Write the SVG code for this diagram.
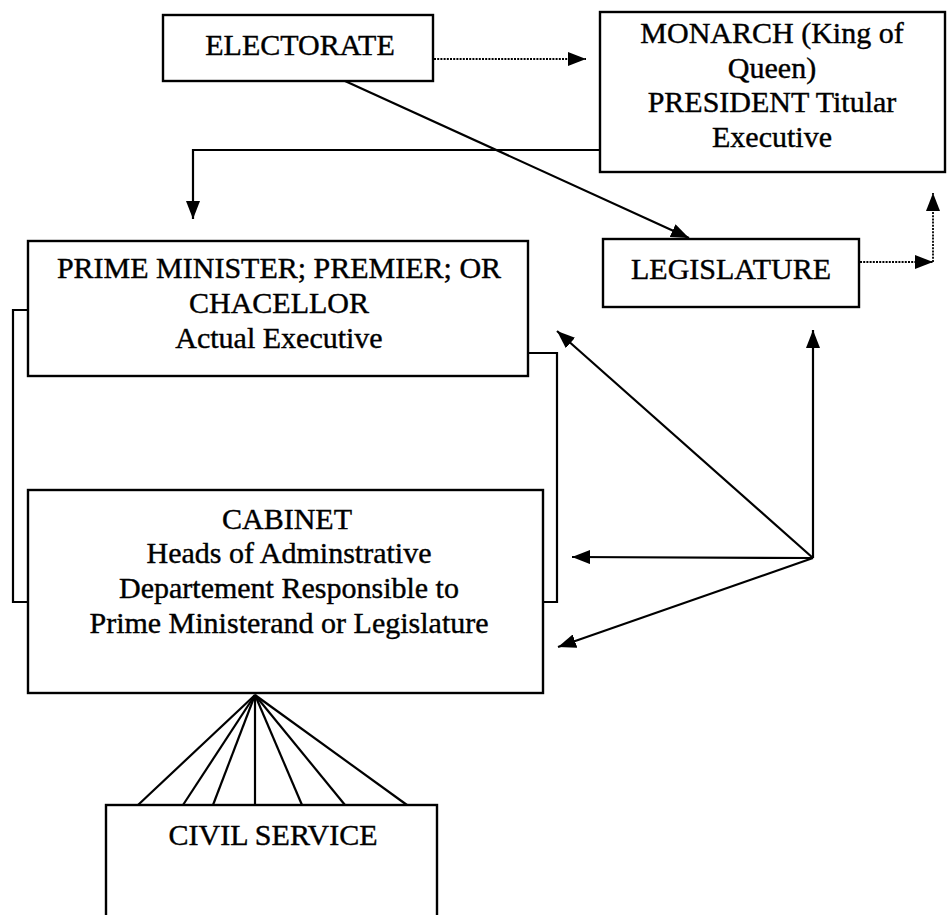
<svg xmlns="http://www.w3.org/2000/svg" width="950" height="915" viewBox="0 0 950 915">
  <style>
    .box { fill: #fff; stroke: #000; stroke-width: 2.4; }
    text { font-family: "Liberation Serif", Tinos, "Times New Roman", "DejaVu Serif", serif; font-size: 30px; fill: #000; stroke: #000; stroke-width: 0.4; text-anchor: middle; }
    .ln { fill: none; stroke: #000; stroke-width: 2.2; }
    .dot { fill: none; stroke: #000; stroke-width: 1.8; stroke-dasharray: 2 1.2; }
  </style>
  <defs>
    <marker id="head" viewBox="0 0 18 14" refX="18" refY="7" markerWidth="18" markerHeight="14" markerUnits="userSpaceOnUse" orient="auto">
      <path d="M0,0 L18,7 L0,14 Z" fill="#000"/>
    </marker>
  </defs>
  <rect width="950" height="915" fill="#fff"/>

  <g id="connectors">
    <!-- electorate to monarch (dotted) -->
    <line class="dot" x1="434" y1="59" x2="586" y2="59" marker-end="url(#head)"/>
    <!-- electorate to legislature -->
    <line class="ln" x1="345" y1="81" x2="689" y2="238" marker-end="url(#head)"/>
    <!-- monarch to prime minister -->
    <polyline class="ln" points="600,150 193,150 193,219" marker-end="url(#head)"/>
    <!-- legislature to monarch (dotted) -->
    <line class="dot" x1="860" y1="262" x2="933" y2="262" marker-end="url(#head)"/>
    <line class="dot" x1="933" y1="262" x2="933" y2="193" marker-end="url(#head)"/>
    <!-- brackets joining prime minister and cabinet -->
    <polyline class="ln" points="28,310 13,310 13,602 28,602"/>
    <polyline class="ln" points="528,353 557,353 557,602 543,602"/>
    <!-- arrows from the legislature junction -->
    <line class="ln" x1="813" y1="558" x2="813" y2="330" marker-end="url(#head)"/>
    <line class="ln" x1="813" y1="558" x2="557" y2="331" marker-end="url(#head)"/>
    <line class="ln" x1="813" y1="558" x2="572" y2="557" marker-end="url(#head)"/>
    <line class="ln" x1="813" y1="558" x2="558" y2="647" marker-end="url(#head)"/>
    <!-- cabinet to civil service fan -->
    <g class="ln">
      <line x1="255" y1="695" x2="138" y2="805"/>
      <line x1="255" y1="695" x2="183" y2="805"/>
      <line x1="255" y1="695" x2="213" y2="805"/>
      <line x1="255" y1="695" x2="255" y2="805"/>
      <line x1="255" y1="695" x2="302" y2="805"/>
      <line x1="255" y1="695" x2="345" y2="805"/>
      <line x1="255" y1="695" x2="407" y2="805"/>
    </g>
  </g>

  <g id="electorate">
    <rect class="box" x="163" y="15" width="270" height="66"/>
    <text x="300" y="55">ELECTORATE</text>
  </g>

  <g id="monarch">
    <rect class="box" x="600" y="12" width="345" height="160"/>
    <text x="772" y="43">MONARCH (King of</text>
    <text x="772" y="78">Queen)</text>
    <text x="772" y="112">PRESIDENT Titular</text>
    <text x="772" y="147">Executive</text>
  </g>

  <g id="legislature">
    <rect class="box" x="603" y="239" width="256" height="68"/>
    <text x="731" y="279">LEGISLATURE</text>
  </g>

  <g id="prime-minister">
    <rect class="box" x="28" y="241" width="500" height="135"/>
    <text x="279" y="278">PRIME MINISTER; PREMIER; OR</text>
    <text x="279" y="313">CHACELLOR</text>
    <text x="279" y="348">Actual Executive</text>
  </g>

  <g id="cabinet">
    <rect class="box" x="28" y="490" width="515" height="203"/>
    <text x="287" y="529">CABINET</text>
    <text x="289" y="563">Heads of Adminstrative</text>
    <text x="289" y="598">Departement Responsible to</text>
    <text x="289" y="633">Prime Ministerand or Legislature</text>
  </g>

  <g id="civil-service">
    <rect class="box" x="106" y="805" width="331" height="130"/>
    <text x="273" y="845">CIVIL SERVICE</text>
  </g>
</svg>
